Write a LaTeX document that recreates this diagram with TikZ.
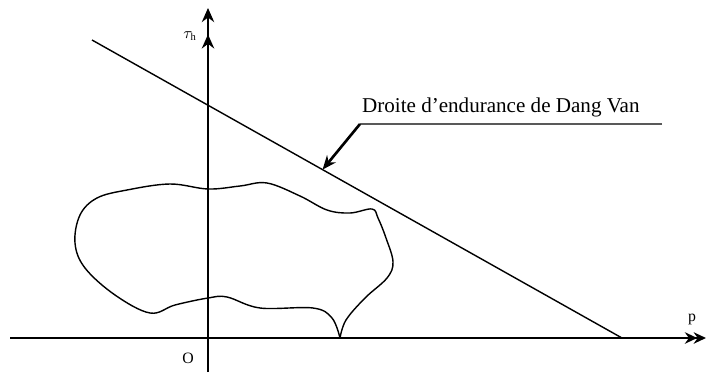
\documentclass[tikz,border=0pt]{standalone}
\usepackage{fontspec}
\setmainfont{Liberation Serif}
\usetikzlibrary{arrows.meta,calc}
\begin{document}
\begin{tikzpicture}[x=0.02cm,y=-0.02cm]
  \useasboundingbox (0,0) rectangle (710,376);

  % Axes
  \draw[line width=1.6pt, -{Stealth[length=8pt,width=7pt,sep=7pt]Stealth[length=8pt,width=7pt]}] (208,372) -- (208,8);
  \draw[line width=1.6pt, -{Stealth[length=7pt,width=6.5pt,sep=-2pt]Stealth[length=7pt,width=6.5pt]}] (10,338) -- (706,338);

  \node (tau) at (190,36) {\small$\tau_{\mathrm{h}}$};
  \node (paxis) at (692,319) {\small p};
  \node (origin) at (188,358) {\small O};

  % Dang Van endurance line
  \coordinate (dvtop) at (92,40);
  \coordinate (dvbot) at (622,338);
  \draw[line width=0.8pt] (dvtop) -- (dvbot);
  \coordinate (hit) at ($(dvtop)!0.435!(dvbot)$);

  % Leader and label
  \node[anchor=south west, inner sep=1pt] (dvlabel) at (360,119) {\fontsize{12pt}{14pt}\selectfont Droite d’endurance de Dang Van};
  \coordinate (elbow) at (360,124);
  \draw[line width=1.6pt, gray!70!black] (662,124) -- (elbow);
  \draw[line width=1.5pt, -{Stealth[length=8pt,width=6.5pt]}] (elbow) -- (hit);

  % Loading path
  \draw[line width=0.8pt] plot[smooth, tension=0.6] coordinates {
    (340,338) (346,320) (365,298) (387,278) (393,262) (386,238) (378,218)
    (372,209) (350,213) (327,210) (300,196) (267,183) (240,186) (208,189)
    (170,184) (127,190) (97,198) (80,215) (75,243) (85,268) (115,295)
    (150,313) (175,305) (208,298) (227,297) (260,308) (313,308) (332,318) (340,338)};
\end{tikzpicture}
\end{document}
